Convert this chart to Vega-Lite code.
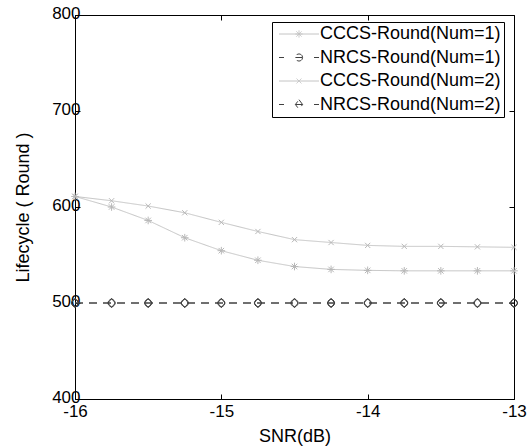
{
  "$schema": "https://vega.github.io/schema/vega-lite/v6.json",
  "width": 439,
  "height": 384,
  "autosize": {"type": "none"},
  "padding": {"left": 75, "top": 15, "right": 13, "bottom": 47},
  "background": "white",
  "config": {
    "font": "Liberation Sans",
    "view": {"stroke": "black", "strokeWidth": 1},
    "axis": {
      "grid": false,
      "domainColor": "black",
      "domainWidth": 1,
      "tickColor": "black",
      "tickWidth": 1,
      "tickSize": -5,
      "labelColor": "black",
      "titleColor": "black",
      "labelFont": "Liberation Sans",
      "titleFont": "Liberation Sans",
      "labelFontSize": 17,
      "titleFontSize": 18,
      "titleFontWeight": "normal",
      "labelOverlap": false,
      "labelFlush": false
    }
  },
  "data": {
    "values": [
      {"snr": -16, "v": 611, "s": "CCCS-Round(Num=1)"},
      {"snr": -15.75, "v": 600, "s": "CCCS-Round(Num=1)"},
      {"snr": -15.5, "v": 586, "s": "CCCS-Round(Num=1)"},
      {"snr": -15.25, "v": 568, "s": "CCCS-Round(Num=1)"},
      {"snr": -15, "v": 554.5, "s": "CCCS-Round(Num=1)"},
      {"snr": -14.75, "v": 544.5, "s": "CCCS-Round(Num=1)"},
      {"snr": -14.5, "v": 538, "s": "CCCS-Round(Num=1)"},
      {"snr": -14.25, "v": 535, "s": "CCCS-Round(Num=1)"},
      {"snr": -14, "v": 534, "s": "CCCS-Round(Num=1)"},
      {"snr": -13.75, "v": 533.5, "s": "CCCS-Round(Num=1)"},
      {"snr": -13.5, "v": 533.5, "s": "CCCS-Round(Num=1)"},
      {"snr": -13.25, "v": 533.5, "s": "CCCS-Round(Num=1)"},
      {"snr": -13, "v": 533.5, "s": "CCCS-Round(Num=1)"},
      {"snr": -16, "v": 500, "s": "NRCS-Round(Num=1)"},
      {"snr": -15.75, "v": 500, "s": "NRCS-Round(Num=1)"},
      {"snr": -15.5, "v": 500, "s": "NRCS-Round(Num=1)"},
      {"snr": -15.25, "v": 500, "s": "NRCS-Round(Num=1)"},
      {"snr": -15, "v": 500, "s": "NRCS-Round(Num=1)"},
      {"snr": -14.75, "v": 500, "s": "NRCS-Round(Num=1)"},
      {"snr": -14.5, "v": 500, "s": "NRCS-Round(Num=1)"},
      {"snr": -14.25, "v": 500, "s": "NRCS-Round(Num=1)"},
      {"snr": -14, "v": 500, "s": "NRCS-Round(Num=1)"},
      {"snr": -13.75, "v": 500, "s": "NRCS-Round(Num=1)"},
      {"snr": -13.5, "v": 500, "s": "NRCS-Round(Num=1)"},
      {"snr": -13.25, "v": 500, "s": "NRCS-Round(Num=1)"},
      {"snr": -13, "v": 500, "s": "NRCS-Round(Num=1)"},
      {"snr": -16, "v": 611, "s": "CCCS-Round(Num=2)"},
      {"snr": -15.75, "v": 606.5, "s": "CCCS-Round(Num=2)"},
      {"snr": -15.5, "v": 601, "s": "CCCS-Round(Num=2)"},
      {"snr": -15.25, "v": 594, "s": "CCCS-Round(Num=2)"},
      {"snr": -15, "v": 584, "s": "CCCS-Round(Num=2)"},
      {"snr": -14.75, "v": 574.5, "s": "CCCS-Round(Num=2)"},
      {"snr": -14.5, "v": 566, "s": "CCCS-Round(Num=2)"},
      {"snr": -14.25, "v": 563, "s": "CCCS-Round(Num=2)"},
      {"snr": -14, "v": 560, "s": "CCCS-Round(Num=2)"},
      {"snr": -13.75, "v": 559, "s": "CCCS-Round(Num=2)"},
      {"snr": -13.5, "v": 559, "s": "CCCS-Round(Num=2)"},
      {"snr": -13.25, "v": 558.5, "s": "CCCS-Round(Num=2)"},
      {"snr": -13, "v": 558, "s": "CCCS-Round(Num=2)"},
      {"snr": -16, "v": 500, "s": "NRCS-Round(Num=2)"},
      {"snr": -15.75, "v": 500, "s": "NRCS-Round(Num=2)"},
      {"snr": -15.5, "v": 500, "s": "NRCS-Round(Num=2)"},
      {"snr": -15.25, "v": 500, "s": "NRCS-Round(Num=2)"},
      {"snr": -15, "v": 500, "s": "NRCS-Round(Num=2)"},
      {"snr": -14.75, "v": 500, "s": "NRCS-Round(Num=2)"},
      {"snr": -14.5, "v": 500, "s": "NRCS-Round(Num=2)"},
      {"snr": -14.25, "v": 500, "s": "NRCS-Round(Num=2)"},
      {"snr": -14, "v": 500, "s": "NRCS-Round(Num=2)"},
      {"snr": -13.75, "v": 500, "s": "NRCS-Round(Num=2)"},
      {"snr": -13.5, "v": 500, "s": "NRCS-Round(Num=2)"},
      {"snr": -13.25, "v": 500, "s": "NRCS-Round(Num=2)"},
      {"snr": -13, "v": 500, "s": "NRCS-Round(Num=2)"}
    ]
  },
  "layer": [
    {
      "mark": {"type": "line", "strokeWidth": 1},
      "encoding": {
        "x": {
          "field": "snr", "type": "quantitative",
          "scale": {"domain": [-16, -13], "nice": false, "zero": false},
          "axis": {"orient": "bottom", "values": [-16, -15, -14, -13], "labelExpr": "'' + datum.value", "title": "SNR(dB)", "labelPadding": 9, "titlePadding": 8}
        },
        "y": {
          "field": "v", "type": "quantitative",
          "scale": {"domain": [400, 800], "nice": false, "zero": false},
          "axis": {"orient": "left", "values": [400, 500, 600, 700, 800], "labelExpr": "'' + datum.value", "title": "Lifecycle ( Round )", "labelPadding": 0, "labelOffset": -1.5, "titlePadding": 19}
        },
        "color": {
          "field": "s", "type": "nominal",
          "scale": {
            "domain": ["CCCS-Round(Num=1)", "NRCS-Round(Num=1)", "CCCS-Round(Num=2)", "NRCS-Round(Num=2)"],
            "range": ["#c4c4c4", "#404040", "#c4c4c4", "#404040"]
          },
          "legend": {
            "title": null,
            "orient": "none",
            "legendX": 197,
            "legendY": 7,
            "strokeColor": "black",
            "fillColor": "white",
            "padding": 3,
            "labelFont": "Liberation Sans",
            "labelFontSize": 18,
            "labelColor": "black",
            "labelLimit": 0,
            "symbolSize": 16,
            "symbolStrokeWidth": 1,
            "symbolOffset": 15,
            "labelOffset": 12,
            "rowPadding": 5.5,
            "encode": {
              "symbols": {
                "update": {
                  "shape": {"signal": "datum.value == 'CCCS-Round(Num=1)' ? 'M-10,0L10,0M-1.8,0L1.8,0M0,-1.8L0,1.8M-1.3,-1.3L1.3,1.3M-1.3,1.3L1.3,-1.3' : datum.value == 'NRCS-Round(Num=1)' ? 'M-10,0L-7.5,0M-1.8,0L1.8,0M7.5,0L10,0M1.8,0L1.56,0.9L0.9,1.56L0,1.8L-0.9,1.56L-1.56,0.9L-1.8,0L-1.56,-0.9L-0.9,-1.56L0,-1.8L0.9,-1.56L1.56,-0.9Z' : datum.value == 'CCCS-Round(Num=2)' ? 'M-10,0L10,0M-1.2,-1.2L1.2,1.2M-1.2,1.2L1.2,-1.2' : 'M-10,0L-7.5,0M-1.8,0L1.8,0M7.5,0L10,0M0,-2.4L1.8,0L0,2.4L-1.8,0Z'"},
                  "size": {"value": 16},
                  "stroke": {"signal": "indexof(datum.value, 'CCCS') == 0 ? '#b8b8b8' : '#404040'"},
                  "fill": {"value": "transparent"},
                  "strokeDash": {"value": [1, 0]},
                  "strokeWidth": {"value": 1},
                  "opacity": {"value": 1}
                }
              }
            }
          }
        },
        "strokeDash": {
          "field": "s", "type": "nominal",
          "scale": {
            "domain": ["CCCS-Round(Num=1)", "NRCS-Round(Num=1)", "CCCS-Round(Num=2)", "NRCS-Round(Num=2)"],
            "range": [[1, 0], [8, 6], [1, 0], [8, 6]]
          },
          "legend": null
        }
      }
    },
    {
      "transform": [{"filter": "datum.s == 'CCCS-Round(Num=1)'"}],
      "mark": {"type": "point", "filled": false, "strokeWidth": 1, "size": 18, "opacity": 1, "color": "#b8b8b8", "shape": "M-1.8,0L1.8,0M0,-1.8L0,1.8M-1.3,-1.3L1.3,1.3M-1.3,1.3L1.3,-1.3"},
      "encoding": {
        "x": {"field": "snr", "type": "quantitative", "axis": null},
        "y": {"field": "v", "type": "quantitative", "axis": null}
      }
    },
    {
      "transform": [{"filter": "datum.s == 'CCCS-Round(Num=2)'"}],
      "mark": {"type": "point", "filled": false, "strokeWidth": 1, "size": 16, "opacity": 1, "color": "#b8b8b8", "shape": "M-1.3,-1.3L1.3,1.3M-1.3,1.3L1.3,-1.3"},
      "encoding": {
        "x": {"field": "snr", "type": "quantitative", "axis": null},
        "y": {"field": "v", "type": "quantitative", "axis": null}
      }
    },
    {
      "transform": [{"filter": "datum.s == 'NRCS-Round(Num=1)'"}],
      "mark": {"type": "point", "filled": false, "strokeWidth": 1, "size": 16, "opacity": 1, "color": "#404040", "shape": "M1.8,0L1.56,0.9L0.9,1.56L0,1.8L-0.9,1.56L-1.56,0.9L-1.8,0L-1.56,-0.9L-0.9,-1.56L0,-1.8L0.9,-1.56L1.56,-0.9Z"},
      "encoding": {
        "x": {"field": "snr", "type": "quantitative", "axis": null},
        "y": {"field": "v", "type": "quantitative", "axis": null}
      }
    },
    {
      "transform": [{"filter": "datum.s == 'NRCS-Round(Num=2)'"}],
      "mark": {"type": "point", "filled": false, "strokeWidth": 1, "size": 16, "opacity": 1, "color": "#404040", "shape": "M0,-2.4L1.8,0L0,2.4L-1.8,0Z"},
      "encoding": {
        "x": {
          "field": "snr", "type": "quantitative",
          "axis": {"orient": "top", "values": [-16, -15, -14, -13], "labels": false, "domain": false, "title": null}
        },
        "y": {
          "field": "v", "type": "quantitative",
          "axis": {"orient": "right", "values": [400, 500, 600, 700, 800], "labels": false, "domain": false, "title": null}
        }
      }
    }
  ],
  "resolve": {"axis": {"x": "independent", "y": "independent"}}
}
